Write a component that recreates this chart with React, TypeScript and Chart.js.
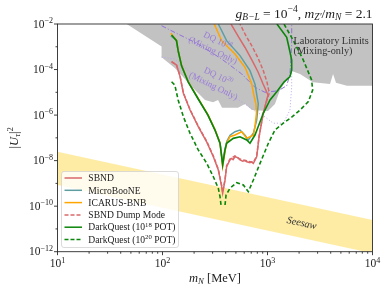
import React, { useEffect, useRef } from 'react';
import { Chart, registerables } from 'chart.js';

Chart.register(...registerables);

// ---------------- data (m_N in MeV, |U_tau|^2) ----------------
const labMass = [45.6, 98, 98, 131, 204, 254, 303, 338, 369, 524, 611, 711, 1010, 1178, 1315, 1567, 1698, 2040, 2710, 3940, 4210, 4490, 5710, 10000];
const labMixing = [1e-2, 1.02e-3, 3.5e-4, 1.17e-4, 1.26e-5, 4.6e-6, 3.7e-6, 4.6e-6, 2.1e-6, 2.1e-6, 3.1e-6, 1.66e-6, 1.5e-6, 3.1e-6, 1.26e-5, 4.3e-5, 8.7e-5, 6.3e-5, 2.8e-5, 2.3e-5, 6.3e-5, 2.6e-5, 1.95e-5, 1.95e-5];

const seesawMass = [10, 10000];
const seesawUpper = [2.45e-8, 2.45e-11];
const seesawLower = [8.5e-10, 8.5e-13];

const sbndMass = [122, 136, 147, 158, 183, 219, 264, 305, 340, 366, 374, 394, 408, 439, 455, 470, 490, 520, 547, 580, 610, 634, 680, 700, 733, 789, 832, 912, 982, 1012, 908, 813, 711, 611, 530, 449];
const sbndMixing = [2.2e-4, 1.58e-4, 4.9e-5, 9.1e-6, 1.66e-6, 3.1e-7, 6.5e-8, 1.48e-8, 3.9e-9, 7.2e-10, 3.7e-10, 1.4e-9, 5.4e-9, 1.07e-8, 1.25e-8, 1.1e-8, 1.48e-8, 1.35e-8, 1.07e-8, 9.5e-9, 1.0e-8, 8.9e-9, 8.2e-9, 8.8e-9, 7.6e-9, 1.48e-8, 1.12e-7, 1.2e-6, 4.6e-6, 7.6e-6, 2.3e-5, 7.8e-5, 2.6e-4, 9.3e-4, 2.7e-3, 1e-2];

const dumpMass = [122, 136, 147, 158, 183, 219, 264, 305, 340, 366, 374, 394, 408, 439, 490, 547, 634, 733, 789, 832, 912, 990, 1040, 989, 908, 813, 711, 624, 547];
const dumpMixing = [2.2e-4, 1.6e-4, 5.1e-5, 9.5e-6, 1.75e-6, 3.3e-7, 7.0e-8, 1.6e-8, 4.2e-9, 8.0e-10, 4.0e-10, 1.5e-9, 5.9e-9, 1.17e-8, 1.6e-8, 1.17e-8, 9.8e-9, 8.3e-9, 1.6e-8, 1.2e-7, 1.25e-6, 4.8e-6, 9.3e-6, 2.8e-5, 9.5e-5, 3.2e-4, 1.08e-3, 3.0e-3, 1e-2];

const uboneMass = [120, 135, 141, 152, 177, 220, 272, 318, 354, 374, 392, 410, 440, 490, 547, 611, 656, 733, 789, 817, 760, 681, 547, 408, 340];
const uboneMixing = [3.0e-3, 2.0e-3, 6.5e-4, 1.4e-4, 2.7e-5, 4.9e-6, 9.5e-7, 2.1e-7, 5.5e-8, 7.5e-9, 3.0e-8, 7.0e-8, 1.3e-7, 1.86e-7, 2.2e-7, 1.32e-7, 8.1e-8, 1.58e-7, 6.0e-7, 3.1e-6, 2.3e-5, 8.9e-5, 4.1e-4, 1.85e-3, 1e-2];

const icarusMass = [120, 124, 136, 141, 152, 176, 219, 271, 316, 353, 374, 394, 408, 439, 490, 568, 634, 681, 733, 760, 785, 776, 741, 708, 611, 490, 366, 311];
const icarusMixing = [3.9e-3, 3.2e-3, 1.9e-3, 6.8e-4, 1.5e-4, 2.9e-5, 5.3e-6, 1.05e-6, 2.3e-7, 6e-8, 5.5e-9, 2.5e-8, 5.8e-8, 1.12e-7, 1.33e-7, 1.86e-7, 9.5e-8, 1.12e-7, 1.3e-7, 3.1e-7, 1.23e-6, 3.1e-6, 7.6e-6, 2.3e-5, 1.26e-4, 4.8e-4, 1.85e-3, 1e-2];

const dq18Mass = [122, 136, 141, 152, 176, 219, 271, 316, 353, 374, 394, 408, 472, 547, 634, 681, 760, 912, 1057, 1225, 1435, 1637, 1700, 1700, 1622, 1524, 1230];
const dq18Mixing = [3.3e-3, 1.85e-3, 6.7e-4, 1.45e-4, 2.8e-5, 5.1e-6, 1.0e-6, 2.2e-7, 5.8e-8, 6.5e-9, 2.95e-8, 5.8e-8, 9.5e-8, 1.12e-7, 8.1e-8, 5.8e-8, 1.33e-7, 1.2e-6, 4.6e-6, 1.07e-5, 2.8e-5, 4.9e-5, 9.5e-5, 2.6e-4, 7.2e-4, 2.6e-3, 1e-2];

const dq20Mass = [122, 131, 141, 158, 183, 219, 264, 305, 340, 353, 361, 375, 394, 403, 439, 509, 589, 656, 733, 849, 1019, 1178, 1413, 1710, 2040, 2449, 2692, 2630, 2193, 1750, 1435];
const dq20Mixing: (number | null)[] = [2.9e-5, 2.1e-5, 4.6e-6, 8.5e-7, 1.58e-7, 2.95e-8, 7.6e-9, 1.95e-9, 6.1e-10, 2.6e-10, 1.12e-10, null, 1.12e-10, 3.1e-10, 6.1e-10, 1.07e-9, 8.5e-10, 4.3e-10, 1.4e-9, 7.6e-9, 5.8e-8, 2.2e-7, 4.4e-7, 8.3e-7, 1.66e-6, 3.9e-6, 1.26e-5, 3.5e-5, 2.6e-4, 2.0e-3, 1e-2];

const dq18MixOnlyMass = [98, 136, 219, 366, 568, 760, 946, 1268, 1524, 1637, 1700, 1700];
const dq18MixOnlyMixing = [8.4e-3, 3.9e-3, 1.32e-3, 2.9e-4, 6.4e-5, 1.66e-5, 1.0e-5, 1.17e-5, 1.95e-5, 6.4e-5, 1.32e-3, 1e-2];

const dq20MixOnlyMass = [98, 131, 176, 316, 534, 760, 946, 1135, 1413, 1637, 1700, 1700];
const dq20MixOnlyMixing = [3.5e-4, 2.9e-4, 8.9e-5, 1.4e-5, 4.6e-6, 1.5e-6, 8.3e-7, 4.4e-7, 4.4e-7, 1.66e-6, 1.78e-5, 1.5e-4];

// ticks
const xMajorTicks = [10, 100, 1000, 10000];
const xMajorExp = ['1', '2', '3', '4'];
const yMajorTicks = [1e-2, 1e-4, 1e-6, 1e-8, 1e-10, 1e-12];
const yMajorExp = ['\u22122', '\u22124', '\u22126', '\u22128', '\u221210', '\u221212'];
const yMinorTicks = [1e-3, 1e-5, 1e-7, 1e-9, 1e-11];

// annotation anchors (data coordinates)
const labTextAnchor = { m: 1770, u: [1.32e-3, 4.8e-4] };
const seesawAnchor = { m: 2118, u: 1.9e-11 };
const dq18LabelAnchor = { m: 321, u: 1.2e-3 };
const dq20LabelAnchor = { m: 324, u: 3.3e-5 };

// ---------------- styling ----------------
const SERIF = '"Liberation Serif", "DejaVu Serif", serif';
const RED = '#d9686a';
const TEAL = '#5f9ea0';
const ORANGE = '#ffa500';
const GREEN = '#0a860a';
const PURPLE = '#9370db';
const PURPLE_LIGHT = '#b9a6ea';
const GRAY = '#c2c2c2';
const YELLOW = 'rgba(253, 220, 90, 0.55)';
const AXIS = '#2a2a2a';

type Seg = { t: string; it?: boolean; v?: 'sup' | 'sub' };

function drawRich(ctx: CanvasRenderingContext2D, segs: Seg[], x: number, y: number, size: number, align: 'left' | 'right' | 'center', color: string) {
  const items = segs.map((s) => {
    const sz = s.v ? size * 0.7 : size;
    const font = `${s.it ? 'italic ' : ''}${sz}px ${SERIF}`;
    ctx.font = font;
    const w = ctx.measureText(s.t).width;
    const dy = s.v === 'sup' ? -size * 0.4 : s.v === 'sub' ? size * 0.22 : 0;
    return { t: s.t, font, w, dy };
  });
  const total = items.reduce((a, b) => a + b.w, 0);
  let cx = align === 'left' ? x : align === 'right' ? x - total : x - total / 2;
  ctx.fillStyle = color;
  ctx.textAlign = 'left';
  ctx.textBaseline = 'alphabetic';
  for (const it of items) {
    ctx.font = it.font;
    ctx.fillText(it.t, cx, y + it.dy);
    cx += it.w;
  }
}

const legendItems: { segs: Seg[]; color: string; dash: number[] }[] = [
  { segs: [{ t: 'SBND' }], color: RED, dash: [] },
  { segs: [{ t: 'MicroBooNE' }], color: TEAL, dash: [] },
  { segs: [{ t: 'ICARUS-BNB' }], color: ORANGE, dash: [] },
  { segs: [{ t: 'SBND Dump Mode' }], color: RED, dash: [4, 2] },
  { segs: [{ t: 'DarkQuest (10' }, { t: '18', v: 'sup' }, { t: ' POT)' }], color: GREEN, dash: [] },
  { segs: [{ t: 'DarkQuest (10' }, { t: '20', v: 'sup' }, { t: ' POT)' }], color: GREEN, dash: [4, 2] },
];

const overlay = {
  id: 'overlay',
  afterDraw(chart: any) {
    const ctx: CanvasRenderingContext2D = chart.ctx;
    const { left, right, top, bottom } = chart.chartArea;
    const xs = chart.scales.x;
    const ys = chart.scales.y;
    ctx.save();

    // Laboratory limits text
    const lx = xs.getPixelForValue(labTextAnchor.m);
    drawRich(ctx, [{ t: 'Laboratory Limits' }], lx, ys.getPixelForValue(labTextAnchor.u[0]), 10.3, 'left', '#333');
    drawRich(ctx, [{ t: '(Mixing-only)' }], lx, ys.getPixelForValue(labTextAnchor.u[1]), 10.3, 'left', '#333');

    // Seesaw label rotated along band
    const p0x = xs.getPixelForValue(seesawMass[0]);
    const p1x = xs.getPixelForValue(seesawMass[1]);
    const p0y = ys.getPixelForValue(seesawUpper[0]);
    const p1y = ys.getPixelForValue(seesawUpper[1]);
    const ang = Math.atan2(p1y - p0y, p1x - p0x);
    ctx.save();
    ctx.translate(xs.getPixelForValue(seesawAnchor.m), ys.getPixelForValue(seesawAnchor.u));
    ctx.rotate(ang);
    drawRich(ctx, [{ t: 'Seesaw', it: true }], 0, 3.5, 10.3, 'center', '#333');
    ctx.restore();

    // DQ mixing-only labels
    const dqLabel = (anchor: { m: number; u: number }, exp: string) => {
      ctx.save();
      ctx.translate(xs.getPixelForValue(anchor.m), ys.getPixelForValue(anchor.u));
      ctx.rotate((26 * Math.PI) / 180);
      const col = 'rgba(147,112,219,0.85)';
      drawRich(ctx, [{ t: 'DQ 10' }, { t: exp, v: 'sup' }], 0, -2, 9, 'center', col);
      drawRich(ctx, [{ t: '(Mixing Only)' }], 0, 8.8, 9, 'center', col);
      ctx.restore();
    };
    dqLabel(dq18LabelAnchor, '18');
    dqLabel(dq20LabelAnchor, '20');

    // Legend
    const bx = 61.5, by = 171.5, bw = 117, bh = 76;
    ctx.beginPath();
    (ctx as any).roundRect(bx, by, bw, bh, 2.5);
    ctx.fillStyle = 'rgba(255,255,255,0.82)';
    ctx.fill();
    ctx.strokeStyle = '#d2d2d2';
    ctx.lineWidth = 0.8;
    ctx.stroke();
    legendItems.forEach((it, i) => {
      const cy = 178 + i * 12.3;
      ctx.beginPath();
      ctx.setLineDash(it.dash);
      ctx.strokeStyle = it.color;
      ctx.lineWidth = 1.5;
      ctx.moveTo(64.5, cy);
      ctx.lineTo(82, cy);
      ctx.stroke();
      ctx.setLineDash([]);
      drawRich(ctx, it.segs, 88.3, cy + 3.2, 9.6, 'left', '#222');
    });

    // Spines
    ctx.strokeStyle = AXIS;
    ctx.lineWidth = 0.9;
    ctx.strokeRect(left, top, right - left, bottom - top);

    // ticks
    ctx.beginPath();
    xMajorTicks.forEach((v) => {
      const px = xs.getPixelForValue(v);
      ctx.moveTo(px, bottom);
      ctx.lineTo(px, bottom + 3.5);
    });
    for (let d = 10; d < 10000; d *= 10) {
      for (let k = 2; k <= 9; k++) {
        const px = xs.getPixelForValue(d * k);
        ctx.moveTo(px, bottom);
        ctx.lineTo(px, bottom + 2);
      }
    }
    yMajorTicks.forEach((v) => {
      const py = ys.getPixelForValue(v);
      ctx.moveTo(left, py);
      ctx.lineTo(left - 3.5, py);
    });
    yMinorTicks.forEach((v) => {
      const py = ys.getPixelForValue(v);
      ctx.moveTo(left, py);
      ctx.lineTo(left - 2, py);
    });
    ctx.stroke();

    xMajorTicks.forEach((v, i) => {
      const px = xs.getPixelForValue(v);
      drawRich(ctx, [{ t: '10' }, { t: xMajorExp[i], v: 'sup' }], px, bottom + 15.5, 11.5, 'center', '#222');
    });
    yMajorTicks.forEach((v, i) => {
      const py = ys.getPixelForValue(v);
      drawRich(ctx, [{ t: '10' }, { t: yMajorExp[i], v: 'sup' }], left - 4.5, py + 3.7, 11.5, 'right', '#222');
    });

    // Axis titles
    drawRich(ctx, [{ t: 'm', it: true }, { t: 'N', it: true, v: 'sub' }, { t: ' [MeV]' }], (left + right) / 2, bottom + 30, 12.5, 'center', '#222');
    ctx.save();
    ctx.translate(17.5, (top + bottom) / 2);
    ctx.rotate(-Math.PI / 2);
    drawRich(ctx, [{ t: '|' }, { t: 'U', it: true }, { t: '\u03c4', it: true, v: 'sub' }, { t: '|' }, { t: '2', v: 'sup' }], 0, 0, 12.5, 'center', '#222');
    ctx.restore();

    // Title
    drawRich(
      ctx,
      [
        { t: 'g', it: true },
        { t: 'B\u2212L', it: true, v: 'sub' },
        { t: ' = 10' },
        { t: '\u22124', v: 'sup' },
        { t: ', ' },
        { t: 'm', it: true },
        { t: 'Z\u2032', it: true, v: 'sub' },
        { t: '/' },
        { t: 'm', it: true },
        { t: 'N', it: true, v: 'sub' },
        { t: ' = 2.1' },
      ],
      right,
      top - 6.5,
      13.5,
      'right',
      '#222'
    );

    ctx.restore();
  },
};

const pts = (m: number[], u: (number | null)[]) => m.map((x, i) => ({ x, y: u[i] }));

export default function App() {
  const ref = useRef<HTMLCanvasElement | null>(null);
  useEffect(() => {
    document.body.style.margin = '0';
    const canvas = ref.current;
    if (!canvas) return;
    const line = (label: string, m: number[], u: (number | null)[], color: string, order: number, extra: any = {}) => ({
      label,
      data: pts(m, u),
      borderColor: color,
      backgroundColor: color,
      borderWidth: 1.5,
      pointRadius: 0,
      tension: 0,
      fill: false,
      spanGaps: false,
      order,
      ...extra,
    });
    const chart = new Chart(canvas, {
      type: 'line',
      data: {
        datasets: [
          line('Laboratory Limits', labMass, labMixing, GRAY, 100, { fill: 'end', backgroundColor: GRAY, borderWidth: 0 }),
          line('Seesaw upper', seesawMass, seesawUpper, 'rgba(0,0,0,0)', 95, { fill: '+1', backgroundColor: YELLOW, borderWidth: 0 }),
          line('Seesaw lower', seesawMass, seesawLower, 'rgba(0,0,0,0)', 96, { borderWidth: 0 }),
          line('DQ 1e18 mixing only', dq18MixOnlyMass, dq18MixOnlyMixing, PURPLE, 80, { borderWidth: 1, borderDash: [5, 2, 1, 2] }),
          line('DQ 1e20 mixing only', dq20MixOnlyMass, dq20MixOnlyMixing, PURPLE_LIGHT, 81, { borderWidth: 1, borderDash: [1, 2] }),
          line('SBND', sbndMass, sbndMixing, RED, 60),
          line('MicroBooNE', uboneMass, uboneMixing, TEAL, 59),
          line('ICARUS-BNB', icarusMass, icarusMixing, ORANGE, 58),
          line('SBND Dump Mode', dumpMass, dumpMixing, RED, 57, { borderDash: [4, 2] }),
          line('DarkQuest (1e18 POT)', dq18Mass, dq18Mixing, GREEN, 56, { borderWidth: 1.6 }),
          line('DarkQuest (1e20 POT)', dq20Mass, dq20Mixing, GREEN, 55, { borderWidth: 1.6, borderDash: [4, 2.5] }),
        ],
      },
      options: {
        animation: false,
        responsive: false,
        devicePixelRatio: 1,
        layout: { padding: { left: 57.5, right: 17.5, top: 24, bottom: 41.3 } },
        scales: {
          x: { type: 'logarithmic', min: 10, max: 10000, display: false },
          y: { type: 'logarithmic', min: 1e-12, max: 1e-2, display: false },
        },
        plugins: { legend: { display: false }, tooltip: { enabled: false } },
        events: [],
      },
      plugins: [overlay],
    } as any);
    return () => chart.destroy();
  }, []);
  return (
    <div style={{ width: 390, height: 293, background: '#fff' }}>
      <canvas ref={ref} width={390} height={293} style={{ display: 'block', width: 390, height: 293 }} />
    </div>
  );
}
